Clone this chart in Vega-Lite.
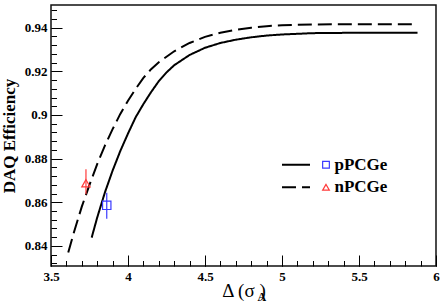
{
  "$schema": "https://vega.github.io/schema/vega-lite/v6.json",
  "width": 385,
  "height": 261,
  "autosize": {"type": "none"},
  "padding": {"left": 51, "top": 5, "right": 11, "bottom": 36},
  "background": "white",
  "config": {
    "view": {"stroke": "#111", "strokeWidth": 1.5},
    "font": "Liberation Serif",
    "axis": {"domain": false, "grid": false, "tickColor": "black", "tickWidth": 1, "labelColor": "black", "titleColor": "black", "labelFont": "Liberation Serif", "titleFont": "Liberation Serif"}
  },
  "datasets": {
    "curves": [
      {"det": "pPCGe", "x": 3.764, "y": 0.8438},
      {"det": "pPCGe", "x": 3.80, "y": 0.8530},
      {"det": "pPCGe", "x": 3.85, "y": 0.8645},
      {"det": "pPCGe", "x": 3.90, "y": 0.8745},
      {"det": "pPCGe", "x": 3.95, "y": 0.8835},
      {"det": "pPCGe", "x": 4.00, "y": 0.8915},
      {"det": "pPCGe", "x": 4.05, "y": 0.8990},
      {"det": "pPCGe", "x": 4.10, "y": 0.9050},
      {"det": "pPCGe", "x": 4.15, "y": 0.9105},
      {"det": "pPCGe", "x": 4.20, "y": 0.9155},
      {"det": "pPCGe", "x": 4.25, "y": 0.9195},
      {"det": "pPCGe", "x": 4.30, "y": 0.9228},
      {"det": "pPCGe", "x": 4.40, "y": 0.9275},
      {"det": "pPCGe", "x": 4.50, "y": 0.9308},
      {"det": "pPCGe", "x": 4.60, "y": 0.9330},
      {"det": "pPCGe", "x": 4.70, "y": 0.9345},
      {"det": "pPCGe", "x": 4.80, "y": 0.9356},
      {"det": "pPCGe", "x": 4.90, "y": 0.9364},
      {"det": "pPCGe", "x": 5.00, "y": 0.9369},
      {"det": "pPCGe", "x": 5.20, "y": 0.9375},
      {"det": "pPCGe", "x": 5.50, "y": 0.9377},
      {"det": "pPCGe", "x": 5.88, "y": 0.9377},
      {"det": "nPCGe", "x": 3.612, "y": 0.8370},
      {"det": "nPCGe", "x": 3.65, "y": 0.8465},
      {"det": "nPCGe", "x": 3.70, "y": 0.8580},
      {"det": "nPCGe", "x": 3.75, "y": 0.8680},
      {"det": "nPCGe", "x": 3.80, "y": 0.8775},
      {"det": "nPCGe", "x": 3.85, "y": 0.8860},
      {"det": "nPCGe", "x": 3.90, "y": 0.8935},
      {"det": "nPCGe", "x": 3.95, "y": 0.9005},
      {"det": "nPCGe", "x": 4.00, "y": 0.9065},
      {"det": "nPCGe", "x": 4.05, "y": 0.9120},
      {"det": "nPCGe", "x": 4.10, "y": 0.9170},
      {"det": "nPCGe", "x": 4.15, "y": 0.9210},
      {"det": "nPCGe", "x": 4.20, "y": 0.9242},
      {"det": "nPCGe", "x": 4.30, "y": 0.9292},
      {"det": "nPCGe", "x": 4.40, "y": 0.9330},
      {"det": "nPCGe", "x": 4.50, "y": 0.9358},
      {"det": "nPCGe", "x": 4.60, "y": 0.9377},
      {"det": "nPCGe", "x": 4.70, "y": 0.9390},
      {"det": "nPCGe", "x": 4.80, "y": 0.9400},
      {"det": "nPCGe", "x": 4.90, "y": 0.9407},
      {"det": "nPCGe", "x": 5.00, "y": 0.9411},
      {"det": "nPCGe", "x": 5.20, "y": 0.9415},
      {"det": "nPCGe", "x": 5.50, "y": 0.9416},
      {"det": "nPCGe", "x": 5.88, "y": 0.9416}
    ],
    "points": [
      {"detector": "pPCGe", "x": 3.862, "y": 0.8586, "lo": 0.8525, "hi": 0.8644},
      {"detector": "nPCGe", "x": 3.727, "y": 0.8687, "lo": 0.8637, "hi": 0.8751}
    ]
  },
  "layer": [
    {
      "data": {"name": "curves"},
      "mark": {"type": "line", "color": "black", "strokeWidth": 2},
      "encoding": {
        "x": {
          "field": "x", "type": "quantitative",
          "scale": {"domain": [3.5, 6], "nice": false, "zero": false},
          "axis": {
            "orient": "bottom",
            "values": [3.5, 4, 4.5, 5, 5.5, 6],
            "format": "~g",
            "ticks": false,
            "tickSize": 0,
            "labelPadding": 4.5,
            "labelFontSize": 13,
            "labelFontWeight": "bold",
            "labelFlush": false,
            "title": "Δ (σ )",
            "titleFontSize": 19,
            "titleFontWeight": "normal",
            "titleAlign": "left",
            "titleBaseline": "alphabetic",
            "titleX": 170.7,
            "titleY": 30
          }
        },
        "y": {
          "field": "y", "type": "quantitative",
          "scale": {"domain": [0.8308, 0.9504], "nice": false, "zero": false},
          "axis": {
            "orient": "left",
            "values": [0.84, 0.86, 0.88, 0.9, 0.92, 0.94],
            "format": ".2~f",
            "ticks": false,
            "tickSize": 0,
            "labelPadding": 4,
            "labelFontSize": 13,
            "labelFontWeight": "bold",
            "labelFlush": false,
            "title": "DAQ Efficiency",
            "titleFontSize": 17,
            "titleFontWeight": "bold",
            "titlePadding": 6
          }
        },
        "strokeDash": {
          "field": "det", "type": "nominal",
          "sort": "descending",
          "scale": {"range": [[1, 0], [14, 6]]},
          "legend": {
            "orient": "none",
            "legendX": 236.5,
            "legendY": 151.2,
            "title": null,
            "padding": 0,
            "symbolType": "M-4,0H4",
            "symbolSize": 49,
            "symbolStrokeWidth": 2,
            "symbolStrokeColor": "black",
            "labelExpr": "' '",
            "labelOpacity": 0,
            "labelFontSize": 17,
            "rowPadding": 4.6
          }
        }
      }
    },
    {
      "data": {"name": "points"},
      "mark": {"type": "rule", "strokeWidth": 1.2},
      "encoding": {
        "x": {
          "field": "x", "type": "quantitative",
          "axis": {
            "orient": "bottom",
            "values": [3.5, 3.6, 3.7, 3.8, 3.9, 4.0, 4.1, 4.2, 4.3, 4.4, 4.5, 4.6, 4.7, 4.8, 4.9, 5.0, 5.1, 5.2, 5.3, 5.4, 5.5, 5.6, 5.7, 5.8, 5.9, 6.0],
            "tickSize": -5.5,
            "labels": false,
            "title": "A",
            "titleFontSize": 12,
            "titleFontWeight": "bold",
            "titleX": 206,
            "titleY": 34,
            "titleAlign": "left",
            "titleBaseline": "alphabetic"
          }
        },
        "y": {
          "field": "lo", "type": "quantitative",
          "axis": {
            "orient": "left",
            "values": [0.832, 0.836, 0.84, 0.844, 0.848, 0.852, 0.856, 0.86, 0.864, 0.868, 0.872, 0.876, 0.88, 0.884, 0.888, 0.892, 0.896, 0.9, 0.904, 0.908, 0.912, 0.916, 0.92, 0.924, 0.928, 0.932, 0.936, 0.94, 0.944, 0.948],
            "tickSize": -5.5,
            "labels": false,
            "title": null
          }
        },
        "y2": {"field": "hi"},
        "stroke": {
          "field": "detector", "type": "nominal",
          "sort": "descending",
          "scale": {"range": ["#3b3bff", "#ff3b3b"]},
          "legend": null
        }
      }
    },
    {
      "data": {"name": "points"},
      "mark": {"type": "point", "filled": false, "strokeWidth": 1.2, "size": 70, "opacity": 1},
      "encoding": {
        "x": {
          "field": "x", "type": "quantitative",
          "axis": {"orient": "bottom", "values": [3.5, 4, 4.5, 5, 5.5, 6], "tickSize": -11, "labels": false, "title": null}
        },
        "y": {
          "field": "y", "type": "quantitative",
          "axis": {"orient": "left", "values": [0.84, 0.86, 0.88, 0.9, 0.92, 0.94], "tickSize": -11, "labels": false, "title": null}
        },
        "color": {
          "field": "detector", "type": "nominal",
          "scale": {"domain": ["pPCGe", "nPCGe"], "range": ["#3b3bff", "#ff3b3b"]},
          "legend": {
            "orient": "none",
            "legendX": 266.5,
            "legendY": 151.2,
            "title": null,
            "padding": 0,
            "labelFont": "Liberation Serif",
            "labelFontWeight": "bold",
            "labelFontSize": 17,
            "labelColor": "black",
            "labelOffset": 0,
            "symbolSize": 45,
            "symbolStrokeWidth": 1.2,
            "rowPadding": 4.6
          }
        },
        "shape": {
          "field": "detector", "type": "nominal",
          "scale": {"domain": ["pPCGe", "nPCGe"], "range": ["square", "triangle-up"]}
        }
      }
    }
  ],
  "resolve": {"axis": {"x": "independent", "y": "independent"}}
}
